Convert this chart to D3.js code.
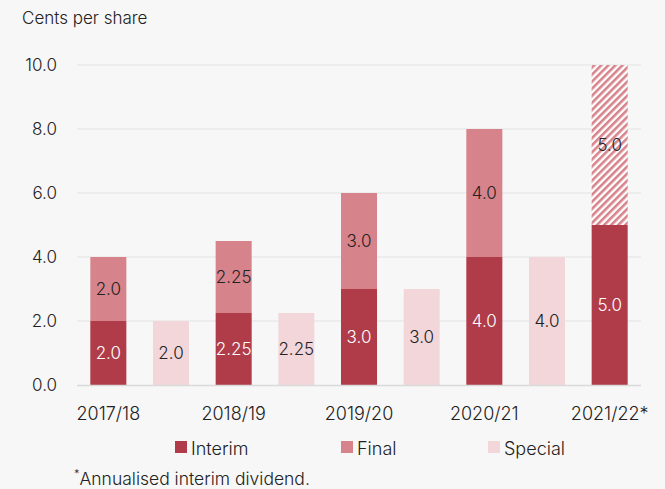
<!DOCTYPE html>
<html><head><meta charset="utf-8">
<script src="https://cdn.jsdelivr.net/npm/d3@7"></script>
<style>
html,body{margin:0;padding:0;background:#f7f7f7;}
text{font-family:Inter,"Open Sans",sans-serif;font-weight:300;}
</style></head>
<body><svg id="c" width="665" height="489"></svg>
<script>
const years = ["2017/18","2018/19","2019/20","2020/21","2021/22"];
const yearLabels = ["2017/18","2018/19","2019/20","2020/21","2021/22*"];
const interim = [2.0, 2.25, 3.0, 4.0, 5.0];
const finalDiv = [2.0, 2.25, 3.0, 4.0, 5.0];
const special = [2.0, 2.25, 3.0, 4.0, null];
const interimLabels = ["2.0","2.25","3.0","4.0","5.0"];
const finalLabels = ["2.0","2.25","3.0","4.0","5.0"];
const specialLabels = ["2.0","2.25","3.0","4.0",null];
const yTicks = [0,2,4,6,8,10];
const legendItems = ["Interim","Final","Special"];

const colInterim = "#b03c4a", colFinal = "#d7838b", colSpecial = "#f2d6d9";
const svg = d3.select("#c");

const defs = svg.append("defs");
const pat = defs.append("pattern").attr("id","hatch").attr("patternUnits","userSpaceOnUse")
  .attr("width",5).attr("height",5).attr("patternTransform","rotate(45)");
pat.append("rect").attr("width",5).attr("height",5).attr("fill","#ffffff");
pat.append("rect").attr("width",2.6).attr("height",5).attr("fill",colFinal);

const slots = [];
years.forEach((y,i)=>{ slots.push(y+"_s"); if(special[i]!=null) slots.push(y+"_p"); });
const x = d3.scaleBand().domain(slots).range([77,641]).paddingInner(0.425).paddingOuter(0.2125);
const y = d3.scaleLinear().domain([0,10]).range([385,65]);

// gridlines
svg.append("g").selectAll("line").data(yTicks.filter(t=>t>0)).join("line")
  .attr("x1",77).attr("x2",641).attr("y1",d=>y(d)).attr("y2",d=>y(d))
  .attr("stroke","#e3e3e3").attr("stroke-width",1);

// y axis labels
const yAxis = d3.axisLeft(y).tickValues(yTicks).tickFormat(d3.format(".1f")).tickSize(0).tickPadding(0);
const ya = svg.append("g").attr("transform","translate(57,0)").call(yAxis);
ya.select(".domain").remove();
ya.selectAll("text").attr("font-size",17).attr("fill","#222").attr("font-family","Inter,sans-serif").attr("font-weight",300);

svg.append("text").attr("x",22).attr("y",24).attr("font-size",17).attr("fill","#222").text("Cents per share");

const g = svg.append("g");
years.forEach((yr,i)=>{
  const xs = x(yr+"_s"), w = x.bandwidth();
  g.append("rect").attr("x",xs).attr("width",w).attr("y",y(interim[i])).attr("height",y(0)-y(interim[i])).attr("fill",colInterim);
  g.append("rect").attr("x",xs).attr("width",w).attr("y",y(interim[i]+finalDiv[i])).attr("height",y(interim[i])-y(interim[i]+finalDiv[i]))
    .attr("fill", i===4 ? "url(#hatch)" : colFinal);
  g.append("text").attr("x",xs+w/2).attr("y",(y(0)+y(interim[i]))/2+6).attr("text-anchor","middle")
    .attr("font-size",17).attr("fill","#fff").text(interimLabels[i]);
  g.append("text").attr("x",xs+w/2).attr("y",(y(interim[i])+y(interim[i]+finalDiv[i]))/2+6).attr("text-anchor","middle")
    .attr("font-size",17).attr("fill","#222").text(finalLabels[i]);
  if(special[i]!=null){
    const xp = x(yr+"_p");
    g.append("rect").attr("x",xp).attr("width",w).attr("y",y(special[i])).attr("height",y(0)-y(special[i])).attr("fill",colSpecial);
    g.append("text").attr("x",xp+w/2).attr("y",(y(0)+y(special[i]))/2+6).attr("text-anchor","middle")
      .attr("font-size",17).attr("fill","#222").text(specialLabels[i]);
  }
  svg.append("text").attr("x",xs+w/2).attr("y",420).attr("text-anchor","middle")
    .attr("font-size",18).attr("fill","#222").text(yearLabels[i]);
});

// baseline
svg.append("line").attr("x1",77).attr("x2",641).attr("y1",y(0)+0.5).attr("y2",y(0)+0.5).attr("stroke","#d9d9d9").attr("stroke-width",1.5);

// legend
const legX = [175,341,488], legCols=[colInterim,colFinal,colSpecial];
legendItems.forEach((t,i)=>{
  svg.append("rect").attr("x",legX[i]).attr("y",441).attr("width",12).attr("height",12).attr("fill",legCols[i]);
  svg.append("text").attr("x",legX[i]+16).attr("y",455).attr("font-size",18).attr("fill","#222").text(t);
});

// footnote
const fn = svg.append("text").attr("x",74).attr("y",485).attr("font-size",17.5).attr("fill","#222");
fn.append("tspan").attr("font-size",11).attr("dy",-7).text("*");
fn.append("tspan").attr("dy",7).text("Annualised interim dividend.");
</script></body></html>
